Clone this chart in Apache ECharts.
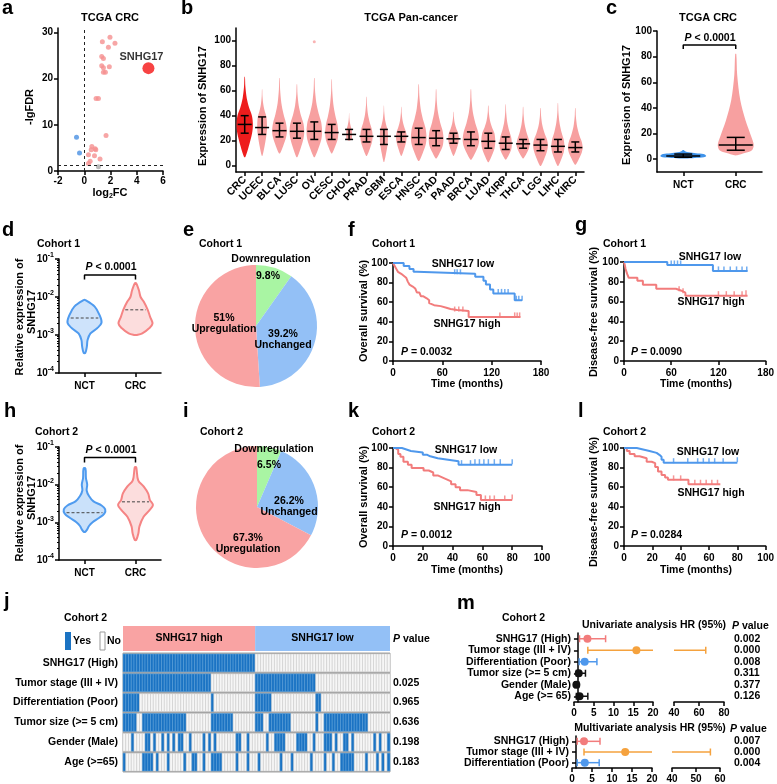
<!DOCTYPE html>
<html><head><meta charset="utf-8">
<script src="https://cdn.jsdelivr.net/npm/echarts@6/dist/echarts.min.js"></script>
<style>html,body{margin:0;padding:0;background:#fff}#c{width:777px;height:784px}</style>
</head><body><div id="c"></div><script>
const FONT = '"Liberation Sans", Arial, sans-serif';

// ---------- a: volcano ----------
const aUp = [[1.96,29.0],[1.38,28.0],[2.34,27.7],[1.84,26.8],[1.33,24.8],[1.46,24.4],[1.33,22.8],[1.46,22.4],[1.91,22.6],[1.46,21.4],[1.61,21.4],[0.90,15.7],[1.08,15.7],[1.66,7.7],[0.58,5.3],[0.83,4.8],[0.53,4.6],[0.88,4.6],[0.32,3.5],[0.78,3.3],[1.20,2.6],[0.45,2.1],[0.32,1.6]];
const aDown = [[-0.59,7.3],[-0.36,3.9]];
const aNs = [[1.08,0.9]];
const aHit = [[4.89,22.3]];
const aFdrCut = 1.3;

// ---------- b: pan-cancer ----------
const bCats = ['CRC','UCEC','BLCA','LUSC','OV','CESC','CHOL','PRAD','GBM','ESCA','HNSC','STAD','PAAD','BRCA','LUAD','KIRP','THCA','LGG','LIHC','KIRC'];
const bMed = [33,30.5,28,27.5,27.5,26.5,25,23.5,23.5,23.5,22.5,22,21.5,21,19.5,18,17.5,16.5,15.5,14.5];
const bQ1  = [26,25,23,22,21,21,21,19,17,19,17,16,18,16,14,13,14,12,11,11];
const bQ3  = [40,39,34,34,35,33,29,29,29,27,30,28,26,27,26,23,21,21,21,19];
const bMin = [7,8,10,7,7,10,20,8,3,8,4,6,8,5,3,5,6,0,0,1];
const bMax = [71,61,70,65,70,69,42,55,48,47,65,61,43,61,48,49,47,46,50,46];
const bSpread = [1.0,0.6,0.9,0.9,0.95,0.8,0.35,0.75,0.5,0.65,0.95,0.9,0.65,1.0,0.85,0.75,0.8,0.9,0.8,0.9];
const bOutliers = [[4,99]];

// ---------- c: TCGA CRC vs NCT ----------
const cCats = ['NCT','CRC'];
const cMin = [0.5,3], cQ1 = [1.5,7], cMed = [2.5,11], cQ3 = [4,17], cMax = [7,82], cSpread = [1.15,0.9];
const cBracket = [[0,86],[0,89],[1,89],[1,86]];

// ---------- d / h: violins ----------
const vCats = ['NCT','CRC'];
const dNct = [[8.3e-3,0.05],[5.6e-3,0.6],[3.4e-3,0.88],[2.1e-3,1.0],[1.5e-3,0.74],[1.1e-3,0.35],[7.4e-4,0.18],[5.0e-4,0.14],[3.4e-4,0.05]];
const dCrc = [[2.3e-2,0.04],[1.5e-2,0.2],[1.0e-2,0.3],[7.6e-3,0.48],[4.6e-3,0.72],[3.0e-3,0.86],[2.0e-3,1.0],[1.5e-3,0.8],[1.1e-3,0.4],[1.0e-3,0.05]];
const dMedian = [2.8e-3,4.6e-3];
const dBracket = [[0,2.9e-2],[0,3.8e-2],[1,3.8e-2],[1,2.9e-2]];
const hNct = [[2.7e-2,0.05],[1.5e-2,0.08],[1.0e-2,0.15],[7e-3,0.12],[5e-3,0.25],[3.6e-3,0.5],[2.8e-3,0.95],[2.2e-3,1.15],[1.7e-3,1.1],[1.3e-3,0.8],[1.0e-3,0.45],[8e-4,0.25],[6.5e-4,0.15],[5.6e-4,0.04]];
const hCrc = [[2.9e-2,0.04],[1.3e-2,0.15],[9e-3,0.45],[5.9e-3,0.7],[3.9e-3,0.8],[2.9e-3,0.97],[2.1e-3,0.78],[1.4e-3,0.45],[7.8e-4,0.22],[5.1e-4,0.16],[3.4e-4,0.04]];
const hMedian = [1.8e-3,3.5e-3];
const hBracket = [[0,3.9e-2],[0,5.3e-2],[1,5.3e-2],[1,3.9e-2]];

// ---------- e / i: pies ----------
const pieNames = ['Downregulation','Unchanged','Upregulation'];
const eValues = [9.8,39.2,51];
const iValues = [6.5,26.2,67.3];

// ---------- f g k l: survival ----------
const fLow  = [[0,100],[13,97],[20,94],[25,91],[29,89],[100,86],[110,82],[113,78],[118,73],[122,69],[148,62],[157,62]];
const fLowC = [[75,89],[78,89],[82,89],[128,69],[132,69],[136,69],[140,69],[150,62],[153,62],[157,62]];
const fHigh = [[0,100],[2,97],[4,94],[6,91],[8,89],[10,87],[13,85],[16,83],[18,81],[20,78],[22,76],[24,74],[27,72],[29,70],[32,68],[34,66],[37,64],[41,62],[44,59],[46,57],[50,56],[58,54],[66,53],[70,52],[78,51],[92,45],[155,45]];
const fHighC = [[75,51],[80,51],[85,51],[130,45],[148,45],[151,45],[154,45]];
const gLow  = [[0,100],[55,97],[113,91],[157,91]];
const gLowC = [[60,97],[64,97],[68,97],[72,97],[120,91],[127,91],[135,91],[143,91],[150,91],[156,91]];
const gHigh = [[0,100],[1,97],[2,93],[4,88],[6,84],[17,81],[24,77],[41,73],[66,71],[73,69],[78,66],[157,66]];
const gHighC = [[70,71],[75,69],[120,66],[130,66],[140,66],[150,66],[155,67]];
const kLow  = [[0,100],[6,98],[10,97],[12,95.5],[20,93],[23,91.5],[25,89.5],[30,88],[37,86.5],[44,83],[80,83]];
const kLowC = [[46,83],[52,83],[55,84],[58,84],[61,84],[64,84],[68,84],[72,84],[80,84]];
const kHigh = [[0,100],[1.5,98],[3.5,94],[5,91],[7,86],[10,83],[12.5,79.5],[20.5,77],[24,75],[27,72],[30,70],[33,68],[36,66],[39,63],[42,60],[45,57],[50,55],[56,52],[59,47],[80,47]];
const kHighC = [[62,47],[65,47],[68,47],[75,47],[80,48]];
const lLow  = [[0,100],[9,98],[15,97],[18,95],[23,93],[25,91],[26.5,88],[28,85],[80,85]];
const lLowC = [[35,85],[45,85],[52,85],[56,85],[60,85],[64,85],[70,85],[80,86]];
const lHigh = [[0,100],[2,97],[4,94],[7.5,91.5],[11,89.5],[16,86],[19.5,84.5],[22,80.5],[24,76],[26.5,72.5],[29,70],[31,67.5],[45.5,63],[68,63]];
const lHighC = [[35,67.5],[40,67.5],[50,63],[54,63],[58,63],[62,63],[66,63]];

// ---------- j: clinical heatmap ----------
const jHighCount = 48, jLowCount = 49;
const jRowNames = ['SNHG17 (High)','Tumor stage (III + IV)','Differentiation (Poor)','Tumor size (>= 5 cm)','Gender (Male)','Age (>=65)'];
const jPvals = ['','0.025','0.965','0.636','0.198','0.183'];
const jHighRuns = [[0,47]];
const jStage = [[0,31],[48,69]];
const jDiff = [[0,5],[32,32],[48,53],[70,71]];
const jSize = [[0,4],[7,22],[32,39],[48,50],[53,60],[70,70],[73,88]];
const jGender = [[3,3],[8,9],[11,11],[14,14],[16,16],[18,18],[20,21],[24,24],[29,29],[31,31],[33,33],[41,42],[45,45],[52,52],[55,58],[63,66],[69,69],[73,75],[77,77],[80,81],[83,83],[91,91],[93,93],[96,96]];
const jAge = [[0,0],[7,10],[12,12],[16,16],[22,22],[25,26],[29,29],[32,35],[41,41],[45,45],[49,49],[57,57],[61,61],[68,68],[73,73],[76,76],[79,83],[88,88],[92,92],[94,94],[96,96]];
const jHeaders = ['SNHG17 high','SNHG17 low'];

// ---------- m: forest ----------
const m1Rows = ['SNHG17 (High)','Tumor stage (III + IV)','Differentiation (Poor)','Tumor size (>= 5 cm)','Gender (Male)','Age (>= 65)'];
const m1HR = [3.4,15.8,2.7,1.2,0.6,1.4];
const m1Lo = [1.4,3.5,1.3,0.6,0.2,0.6];
const m1Hi = [8.0,65.4,5.8,2.9,1.2,3.5];
const m1P = ['0.002','0.000','0.008','0.311','0.377','0.126'];
const m2Rows = ['SNHG17 (High)','Tumor stage (III + IV)','Differentiation (Poor)'];
const m2HR = [3.0,13.3,3.2];
const m2Lo = [1.3,3.0,1.3];
const m2Hi = [7.0,56,6.8];
const m2P = ['0.007','0.000','0.004'];

// ================= styles =================
const RED = '#f27c7c', BLUE = '#4f98ec', ORANGE = '#f5a23e';
const LINE = {show:true, onZero:false, lineStyle:{color:'#000', width:1.5}};
const TICK = {show:true, length:4, lineStyle:{color:'#000', width:1.5}};
function lab(extra){ return Object.assign({color:'#000', fontFamily:FONT, fontWeight:'bold', fontSize:10, margin:5}, extra||{}); }
function valAxis(gi, min, max, o){ return Object.assign({type:'value', gridIndex:gi, min, max, axisLine:LINE, axisTick:TICK, axisLabel:lab(), splitLine:{show:false}}, o||{}); }
function customVals(vals){ return {axisLabel:lab({customValues:vals}), axisTick:Object.assign({}, TICK, {customValues:vals})}; }
function catAxis(gi, data, o){ return Object.assign({type:'category', gridIndex:gi, data, axisLine:LINE, axisTick:Object.assign({}, TICK, {alignWithLabel:true}), axisLabel:lab({interval:0, margin:6}), splitLine:{show:false}}, o||{}); }
const logLabel = lab({margin:5, formatter: v => '{b|10}{s|' + Math.round(Math.log10(v)) + '}',
  rich:{b:{fontSize:10, fontWeight:'bold', fontFamily:FONT, color:'#000'}, s:{fontSize:7, fontWeight:'bold', fontFamily:FONT, color:'#000', padding:[0,0,7,0]}}});
function logAxis(gi){ return {type:'log', gridIndex:gi, logBase:10, min:1e-4, max:1e-1, axisLine:LINE, axisTick:TICK,
  minorTick:{show:true, splitNumber:9, length:2, lineStyle:{color:'#000', width:1}}, axisLabel:logLabel, splitLine:{show:false}}; }

const grids = [
 {left:58, top:28, width:105, height:143},
 {left:236, top:28, width:348, height:144},
 {left:657, top:31, width:105, height:141},
 {left:59, top:259, width:102, height:114},
 {left:393, top:263, width:148, height:98},
 {left:624, top:262, width:142, height:99},
 {left:59, top:447, width:102, height:113},
 {left:393, top:448, width:149, height:98},
 {left:624, top:448, width:143, height:98},
 {left:123, top:653, width:267, height:119, show:true, backgroundColor:'#a3a3a3', borderColor:'#a3a3a3', borderWidth:1},
 {left:574, top:633, width:79, height:69},
 {left:674, top:633, width:50, height:69},
 {left:572, top:736, width:80, height:33},
 {left:672, top:736, width:48, height:33}
];

const jCols = [];
for (let c = 0; c < jHighCount + jLowCount; c++) jCols.push(String(c));

const xAxes = [
  valAxis(0,-2,6,{interval:2}),
  catAxis(1,bCats,{axisLabel:lab({interval:0, rotate:45, margin:6, fontSize:10.5})}),
  catAxis(2,cCats,{axisLabel:lab({interval:0, margin:8})}),
  catAxis(3,vCats,{axisLabel:lab({interval:0, margin:8})}),
  valAxis(4,0,180,{interval:60, axisLabel:lab({margin:7})}),
  valAxis(5,0,180,{interval:60, axisLabel:lab({margin:7})}),
  catAxis(6,vCats,{axisLabel:lab({interval:0, margin:8})}),
  valAxis(7,0,100,{interval:20, axisLabel:lab({margin:7})}),
  valAxis(8,0,100,{interval:20, axisLabel:lab({margin:7})}),
  {type:'category', gridIndex:9, data:jCols, show:false},
  valAxis(10,0,20,{interval:5, axisLabel:lab({margin:6})}),
  valAxis(11,40,80,{interval:20, axisLabel:lab({margin:6})}),
  valAxis(12,0,20,{interval:5, axisLabel:lab({margin:6})}),
  valAxis(13,40,60,{interval:10, axisLabel:lab({margin:6})})
];
const yAxes = [
  valAxis(0,0,31,customVals([0,10,20,30])),
  valAxis(1,-5,110,customVals([0,20,40,60,80,100])),
  valAxis(2,-10,100,customVals([0,20,40,60,80,100])),
  logAxis(3),
  valAxis(4,0,100,{interval:20}),
  valAxis(5,0,100,{interval:20}),
  logAxis(6),
  valAxis(7,0,100,{interval:20}),
  valAxis(8,0,100,{interval:20}),
  {type:'category', gridIndex:9, data:jRowNames, inverse:true, axisLine:{show:false}, axisTick:{show:false}, axisLabel:lab({interval:0, margin:5, fontSize:10.5}), splitLine:{show:false}},
  {type:'category', gridIndex:10, data:m1Rows, inverse:true, offset:-3.95, axisLine:LINE, axisTick:Object.assign({}, TICK, {alignWithLabel:true}), axisLabel:lab({interval:0, margin:7, fontSize:10.5})},
  {type:'category', gridIndex:11, data:m1P, inverse:true, position:'right', offset:2, axisLine:{show:false}, axisTick:{show:false}, axisLabel:lab({interval:0, margin:8, fontSize:10.5})},
  {type:'category', gridIndex:12, data:m2Rows, inverse:true, offset:-3.97, axisLine:LINE, axisTick:Object.assign({}, TICK, {alignWithLabel:true}), axisLabel:lab({interval:0, margin:7, fontSize:10.5})},
  {type:'category', gridIndex:13, data:m2P, inverse:true, position:'right', offset:6, axisLine:{show:false}, axisTick:{show:false}, axisLabel:lab({interval:0, margin:8, fontSize:10.5})},
  {type:'category', gridIndex:9, data:jPvals, inverse:true, position:'right', axisLine:{show:false}, axisTick:{show:false}, axisLabel:lab({interval:0, margin:3, fontSize:10.5})}
];

// ================= render helpers =================
function swarmRender(colors, halfW) {
  return function(params, api) {
    const cat = api.value(0), mn = api.value(1), q1 = api.value(2), md = api.value(3), q3 = api.value(4), mx = api.value(5), sp = api.value(6);
    const prof = [[mn,0.08],[mn+(q1-mn)*0.45,0.5],[q1,0.9],[md,1],[q3,0.88],[q3+(mx-q3)*0.2,0.55],[q3+(mx-q3)*0.45,0.25],[q3+(mx-q3)*0.75,0.08],[mx,0.03]];
    const cx = api.coord([cat, md])[0];
    const pts = [];
    prof.forEach(p => pts.push([cx + p[1]*sp*halfW, api.coord([cat, p[0]])[1]]));
    for (let k = prof.length - 1; k >= 0; k--) pts.push([cx - prof[k][1]*sp*halfW, api.coord([cat, prof[k][0]])[1]]);
    return {type:'polygon', shape:{points:pts, smooth:0.3}, style:{fill:colors[params.dataIndex] || colors[colors.length-1]}};
  };
}
function errRender(halfMed, halfCap) {
  return function(params, api) {
    const c = api.value(0);
    const pLo = api.coord([c, api.value(1)]), pMd = api.coord([c, api.value(2)]), pHi = api.coord([c, api.value(3)]);
    const st = {stroke:'#000', lineWidth:1.5};
    return {type:'group', children:[
      {type:'line', shape:{x1:pMd[0]-halfMed, y1:pMd[1], x2:pMd[0]+halfMed, y2:pMd[1]}, style:st},
      {type:'line', shape:{x1:pLo[0], y1:pLo[1], x2:pHi[0], y2:pHi[1]}, style:st},
      {type:'line', shape:{x1:pLo[0]-halfCap, y1:pLo[1], x2:pLo[0]+halfCap, y2:pLo[1]}, style:st},
      {type:'line', shape:{x1:pHi[0]-halfCap, y1:pHi[1], x2:pHi[0]+halfCap, y2:pHi[1]}, style:st}
    ]};
  };
}
function violinRender(profiles, medians, strokes, fills, halfW) {
  return function(params, api) {
    const i = params.dataIndex, cat = api.value(0), prof = profiles[i];
    const cx = api.coord([cat, medians[i]])[0];
    const pts = [];
    prof.forEach(p => pts.push([cx + p[1]*halfW, api.coord([cat, p[0]])[1]]));
    for (let k = prof.length - 1; k >= 0; k--) pts.push([cx - prof[k][1]*halfW, api.coord([cat, prof[k][0]])[1]]);
    const my = api.coord([cat, medians[i]])[1];
    let w = 0;
    for (let k = 0; k < prof.length - 1; k++) {
      const y1 = api.coord([cat, prof[k][0]])[1], y2 = api.coord([cat, prof[k+1][0]])[1];
      if (my >= y1 && my <= y2) { const t = (my - y1) / (y2 - y1 || 1); w = (prof[k][1] + t*(prof[k+1][1]-prof[k][1])) * halfW; }
    }
    return {type:'group', children:[
      {type:'polygon', shape:{points:pts, smooth:0.35}, style:{fill:fills[i], stroke:strokes[i], lineWidth:2}},
      {type:'line', shape:{x1:cx-w+2, y1:my, x2:cx+w-2, y2:my}, style:{stroke:'#444', lineWidth:1, lineDash:[3,2]}}
    ]};
  };
}
function kmSeries(gi, data, color){ return {type:'line', xAxisIndex:gi, yAxisIndex:gi, data, step:'end', symbol:'none', silent:true, lineStyle:{color, width:2}, z:3}; }
function censorSeries(gi, data, color){ return {type:'scatter', xAxisIndex:gi, yAxisIndex:gi, data, symbol:'rect', symbolSize:[1.5,5], symbolOffset:[0,-2], silent:true, itemStyle:{color}, z:3}; }
function bracketSeries(gi, data){ return {type:'line', xAxisIndex:gi, yAxisIndex:gi, data, symbol:'none', silent:true, lineStyle:{color:'#000', width:1.5}}; }
function forestRender(xmin, xmax, colors) {
  return function(params, api) {
    const hr = api.value(0), r = api.value(1), lo = api.value(2), hi = api.value(3);
    const col = colors[r];
    const y = api.coord([xmin, r])[1];
    const X = v => api.coord([v, r])[0];
    const ch = [];
    const st = {stroke:col, lineWidth:1.5};
    if (hi >= xmin && lo <= xmax) {
      const a = Math.max(lo, xmin), b = Math.min(hi, xmax);
      ch.push({type:'line', shape:{x1:X(a), y1:y, x2:X(b), y2:y}, style:st});
      if (lo >= xmin) ch.push({type:'line', shape:{x1:X(lo), y1:y-3.5, x2:X(lo), y2:y+3.5}, style:st});
      if (hi <= xmax) ch.push({type:'line', shape:{x1:X(hi), y1:y-3.5, x2:X(hi), y2:y+3.5}, style:st});
    }
    if (hr >= xmin && hr <= xmax) ch.push({type:'circle', shape:{cx:X(hr), cy:y, r:4}, style:{fill:col}});
    return {type:'group', children:ch};
  };
}
const m1Colors = [RED, ORANGE, BLUE, '#111', '#111', '#111'];
const m2Colors = [RED, ORANGE, BLUE];

// j cells
const jRuns = [jHighRuns, jStage, jDiff, jSize, jGender, jAge];
const jCells = [];
jRuns.forEach((runs, r) => {
  for (let c = 0; c < jCols.length; c++) {
    const yes = runs.some(rn => c >= rn[0] && c <= rn[1]) ? 1 : 0;
    jCells.push([c, r, yes]);
  }
});
const jHeaderSpan = [[0, jHighCount - 1], [jHighCount, jHighCount + jLowCount - 1]];
const jHeaderColors = ['#f9a3a3', '#93c0f6'];

const series = [];
// a
series.push({type:'scatter', xAxisIndex:0, yAxisIndex:0, data:aUp, symbolSize:5, itemStyle:{color:'#f59090'}, silent:true,
  markLine:{silent:true, symbol:'none', label:{show:false}, lineStyle:{color:'#222', width:1, type:[3,3]}, data:[{xAxis:0},{yAxis:aFdrCut}]}});
series.push({type:'scatter', xAxisIndex:0, yAxisIndex:0, data:aDown, symbolSize:5, itemStyle:{color:'#4a90e2'}, silent:true});
series.push({type:'scatter', xAxisIndex:0, yAxisIndex:0, data:aNs, symbolSize:5, itemStyle:{color:'#a8a8a8'}, silent:true});
series.push({type:'scatter', xAxisIndex:0, yAxisIndex:0, data:aHit, symbolSize:12, itemStyle:{color:'#f51414'}, silent:true,
  label:{show:true, formatter:'SNHG17', position:[-23,-11], color:'#000', fontFamily:FONT, fontWeight:'bold', fontSize:11}});
// b
series.push({type:'custom', xAxisIndex:1, yAxisIndex:1, silent:true,
  data:bCats.map((c,i)=>[i,bMin[i],bQ1[i],bMed[i],bQ3[i],bMax[i],bSpread[i]]),
  renderItem:swarmRender(['#ee1c1c','#f7a0a0'], 8.2)});
series.push({type:'scatter', xAxisIndex:1, yAxisIndex:1, data:bOutliers, symbolSize:3, itemStyle:{color:'#f7a0a0'}, silent:true});
series.push({type:'custom', xAxisIndex:1, yAxisIndex:1, silent:true, z:4,
  data:bCats.map((c,i)=>[i,bQ1[i],bMed[i],bQ3[i]]), renderItem:errRender(7,4)});
// c
series.push({type:'custom', xAxisIndex:2, yAxisIndex:2, silent:true,
  data:cCats.map((c,i)=>[i,cMin[i],cQ1[i],cMed[i],cQ3[i],cMax[i],cSpread[i]]),
  renderItem:swarmRender(['#3f93ea','#f7a0a0'], 20)});
series.push({type:'custom', xAxisIndex:2, yAxisIndex:2, silent:true, z:4,
  data:cCats.map((c,i)=>[i,cQ1[i],cMed[i],cQ3[i]]), renderItem:errRender(17,9)});
series.push(bracketSeries(2, cBracket));
// d
series.push({type:'custom', xAxisIndex:3, yAxisIndex:3, silent:true, data:[[0,dMedian[0]],[1,dMedian[1]]],
  renderItem:violinRender([dNct,dCrc], dMedian, ['#4f9bef','#f58484'], ['rgba(79,155,239,0.28)','rgba(245,132,132,0.28)'], 17)});
series.push(bracketSeries(3, dBracket));
// h
series.push({type:'custom', xAxisIndex:6, yAxisIndex:6, silent:true, data:[[0,hMedian[0]],[1,hMedian[1]]],
  renderItem:violinRender([hNct,hCrc], hMedian, ['#4f9bef','#f58484'], ['rgba(79,155,239,0.3)','rgba(245,132,132,0.28)'], 18)});
series.push(bracketSeries(6, hBracket));
// pies
const pieColors = ['#a9f5a3','#93c0f6','#f9a3a3'];
function pie(center, r, values){ return {type:'pie', center, radius:r, startAngle:90, clockwise:true, silent:true, label:{show:false}, labelLine:{show:false}, emphasis:{disabled:true}, z:1,
  data:pieNames.map((n,i)=>({name:n, value:values[i], itemStyle:{color:pieColors[i]}}))}; }
series.push(pie([256,326], 61, eValues));
series.push(pie([257,507], 61, iValues));
// survival
[[4,fLow,fLowC,fHigh,fHighC],[5,gLow,gLowC,gHigh,gHighC],[7,kLow,kLowC,kHigh,kHighC],[8,lLow,lLowC,lHigh,lHighC]].forEach(s => {
  series.push(kmSeries(s[0], s[3], RED));
  series.push(censorSeries(s[0], s[4], RED));
  series.push(kmSeries(s[0], s[1], BLUE));
  series.push(censorSeries(s[0], s[2], BLUE));
});
// j
series.push({type:'custom', xAxisIndex:9, yAxisIndex:9, silent:true, data:jCells, encode:{x:0, y:1},
  renderItem:function(params, api){
    const c = api.value(0), r = api.value(1), yes = api.value(2);
    const p = api.coord([c, r]), s = api.size([1, 1]);
    return {type:'rect', shape:{x:p[0]-s[0]/2, y:p[1]-s[1]/2+1, width:s[0], height:s[1]-2},
      style: yes ? {fill:'#1b73c3', stroke:'#62a9e3', lineWidth:0.5} : {fill:'#f6f6f6', stroke:'#cdcdcd', lineWidth:0.5}};
  }});
series.push({type:'custom', xAxisIndex:9, yAxisIndex:9, silent:true, data:[[0,0],[1,0]], encode:{x:0, y:1},
  renderItem:function(params, api){
    const i = params.dataIndex, sp = jHeaderSpan[i];
    const s = api.size([1, 1]);
    const x1 = api.coord([sp[0], 0])[0] - s[0]/2, x2 = api.coord([sp[1], 0])[0] + s[0]/2;
    const top = params.coordSys.y;
    return {type:'group', children:[
      {type:'rect', shape:{x:x1, y:top-27, width:x2-x1, height:25}, style:{fill:jHeaderColors[i]}},
      {type:'text', x:(x1+x2)/2, y:top-14.5, style:{text:jHeaders[i], fontFamily:FONT, fontWeight:'bold', fontSize:10.5, fill:'#000', align:'center', verticalAlign:'middle'}}
    ]};
  }});
// m
series.push({type:'custom', xAxisIndex:10, yAxisIndex:10, silent:true, encode:{x:0,y:1}, data:m1HR.map((v,i)=>[v,i,m1Lo[i],m1Hi[i]]), renderItem:forestRender(0,20,m1Colors)});
series.push({type:'custom', xAxisIndex:11, yAxisIndex:11, silent:true, encode:{x:0,y:1}, data:m1HR.map((v,i)=>[v,i,m1Lo[i],m1Hi[i]]), renderItem:forestRender(40,80,m1Colors)});
series.push({type:'custom', xAxisIndex:12, yAxisIndex:12, silent:true, encode:{x:0,y:1}, data:m2HR.map((v,i)=>[v,i,m2Lo[i],m2Hi[i]]), renderItem:forestRender(0,20,m2Colors)});
series.push({type:'custom', xAxisIndex:13, yAxisIndex:13, silent:true, encode:{x:0,y:1}, data:m2HR.map((v,i)=>[v,i,m2Lo[i],m2Hi[i]]), renderItem:forestRender(40,60,m2Colors)});

// ================= texts =================
const RICHP = {i:{fontStyle:'italic', fontWeight:'bold', fontSize:10.5, fontFamily:FONT, fill:'#000'}, n:{fontWeight:'bold', fontSize:10.5, fontFamily:FONT, fill:'#000'}};
function T(x, base, text, size, o) {
  o = o || {};
  return {type:'text', x, y: base - 0.35*size, silent:true, z:100, zlevel:0,
    style:{text, fontSize:size, fontWeight:o.weight || 'bold', fontFamily:FONT, fill:'#000', align:o.align || 'left', verticalAlign:'middle', rich:o.rich}};
}
function TR(cx, cy, text, size) {
  return {type:'text', x:cx, y:cy, rotation:Math.PI/2, silent:true, z:100,
    style:{text, fontSize:size, fontWeight:'bold', fontFamily:FONT, fill:'#000', align:'center', verticalAlign:'middle'}};
}
const P = (s) => '{i|P}{n|' + s + '}';
const graphic = {z:100, elements:[
  T(2,15,'a',20), T(181,15,'b',20), T(606,15,'c',20),
  T(2,237,'d',20), T(183,237,'e',20), T(348,237,'f',20), T(575,232,'g',20),
  T(4,418,'h',20), T(183,418,'i',20), T(348,418,'k',20), T(578,418,'l',20),
  T(4,608,'j',20), T(457,610,'m',20),
  T(110,22,'TCGA CRC',11,{align:'center'}), T(411,22,'TCGA Pan-cancer',11,{align:'center'}), T(708,22,'TCGA CRC',11,{align:'center'}),
  TR(30,107,'-lgFDR',11),
  T(110,197,'{n|log}{s|2}{n|FC}',11,{align:'center', rich:{n:{fontSize:11,fontWeight:'bold',fontFamily:FONT}, s:{fontSize:7,fontWeight:'bold',fontFamily:FONT, padding:[6,0,0,0]}}}),
  TR(203,106,'Expression of SNHG17',11), TR(627,105,'Expression of SNHG17',11),
  T(710,42,P(' < 0.0001'),10.5,{align:'center', rich:RICHP}),
  T(37,248,'Cohort 1',10.5), T(199,248,'Cohort 1',10.5), T(372,248,'Cohort 1',10.5), T(603,248,'Cohort 1',10.5),
  T(35,436,'Cohort 2',10.5), T(200,436,'Cohort 2',10.5), T(372,436,'Cohort 2',10.5), T(603,436,'Cohort 2',10.5),
  T(64,622,'Cohort 2',10.5), T(502,622,'Cohort 2',10.5),
  TR(20,317,'Relative expression of',11), TR(32,312,'SNHG17',11),
  TR(20,503,'Relative expression of',11), TR(32,498,'SNHG17',11),
  T(111,271,P(' < 0.0001'),10.5,{align:'center', rich:RICHP}),
  T(111,454,P(' < 0.0001'),10.5,{align:'center', rich:RICHP}),
  T(271,263,'Downregulation',10.5,{align:'center'}), T(268,280,'9.8%',10.5,{align:'center'}),
  T(224,322,'51%',10.5,{align:'center'}), T(224,333,'Upregulation',10.5,{align:'center'}),
  T(283,338,'39.2%',10.5,{align:'center'}), T(283,349,'Unchanged',10.5,{align:'center'}),
  T(274,453,'Downregulation',10.5,{align:'center'}), T(269,469,'6.5%',10.5,{align:'center'}),
  T(289,505,'26.2%',10.5,{align:'center'}), T(289,516,'Unchanged',10.5,{align:'center'}),
  T(248,542,'67.3%',10.5,{align:'center'}), T(248,553,'Upregulation',10.5,{align:'center'}),
  TR(364,311,'Overall survival (%)',11), TR(594,312,'Disease-free survival (%)',11),
  TR(364,497,'Overall survival (%)',11), TR(594,502,'Disease-free survival (%)',11),
  T(467,388,'Time (months)',10.5,{align:'center'}), T(696,388,'Time (months)',10.5,{align:'center'}),
  T(467,574,'Time (months)',10.5,{align:'center'}), T(696,574,'Time (months)',10.5,{align:'center'}),
  T(463,268,'SNHG17 low',10.5,{align:'center'}), T(467,328,'SNHG17 high',10.5,{align:'center'}), T(401,356,P(' = 0.0032'),10.5,{rich:RICHP}),
  T(710,261,'SNHG17 low',10.5,{align:'center'}), T(711,306,'SNHG17 high',10.5,{align:'center'}), T(631,356,P(' = 0.0090'),10.5,{rich:RICHP}),
  T(466,454,'SNHG17 low',10.5,{align:'center'}), T(467,511,'SNHG17 high',10.5,{align:'center'}), T(401,539,P(' = 0.0012'),10.5,{rich:RICHP}),
  T(708,456,'SNHG17 low',10.5,{align:'center'}), T(711,497,'SNHG17 high',10.5,{align:'center'}), T(631,539,P(' = 0.0284'),10.5,{rich:RICHP}),
  {type:'rect', shape:{x:65, y:632, width:6, height:18}, style:{fill:'#1b73c3'}, silent:true, z:100},
  {type:'rect', shape:{x:100, y:632, width:5, height:18}, style:{fill:'#fff', stroke:'#999', lineWidth:1}, silent:true, z:100},
  T(73,645,'Yes',10.5), T(107,645,'No',10.5),
  T(393,643,P(' value'),10.5,{rich:RICHP}),
  T(654,629,'Univariate analysis HR (95%)',10.5,{align:'center'}), T(732,630,P(' value'),10.5,{rich:RICHP}),
  T(650,732,'Multivariate analysis HR (95%)',10.5,{align:'center'}), T(730,733,P(' value'),10.5,{rich:RICHP})
]};

const chart = echarts.init(document.getElementById('c'), null, {renderer:'canvas'});
chart.setOption({
  animation:false,
  backgroundColor:'#fff',
  textStyle:{fontFamily:FONT},
  grid:grids, xAxis:xAxes, yAxis:yAxes, series, graphic
});
</script></body></html>
